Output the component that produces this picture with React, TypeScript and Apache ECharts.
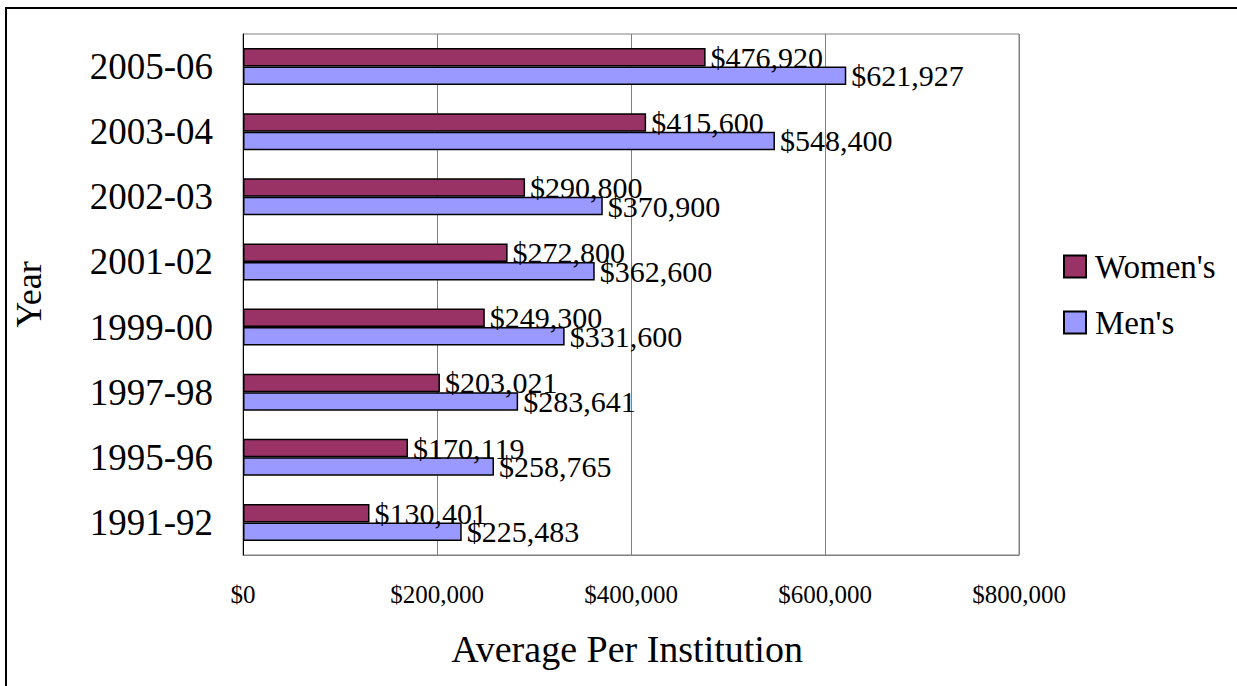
import React, { useEffect, useRef } from "react";
import * as echarts from "echarts";

const years = ["1991-92", "1995-96", "1997-98", "1999-00", "2001-02", "2002-03", "2003-04", "2005-06"];
const womens = [130401, 170119, 203021, 249300, 272800, 290800, 415600, 476920];
const mens = [225483, 258765, 283641, 331600, 362600, 370900, 548400, 621927];
const xTicks = [0, 200000, 400000, 600000, 800000];

const FONT = "'Liberation Serif'";
const money = (v: number) => "$" + v.toLocaleString("en-US");

export default function App() {
  const ref = useRef<HTMLDivElement>(null);
  useEffect(() => {
    if (!ref.current) return;
    const chart = echarts.init(ref.current, null, { renderer: "svg" });
    const labelCfg = {
      show: true,
      position: "right" as const,
      distance: 5,
      fontFamily: FONT,
      fontSize: 30,
      color: "#000",
      formatter: (p: any) => money(p.value),
    };
    chart.setOption({
      animation: false,
      backgroundColor: "#fff",
      textStyle: { fontFamily: FONT },
      graphic: [
        {
          type: "rect",
          shape: { x: 6, y: 8, width: 1300, height: 800 },
          style: { fill: "none", stroke: "#000", lineWidth: 2 },
          silent: true,
          z: -10,
        },
      ],
      grid: {
        left: 243,
        top: 34,
        right: 218,
        bottom: 131,
        outerBoundsMode: "none",
        containLabel: false,
        show: true,
        borderColor: "#808080",
        borderWidth: 1,
        backgroundColor: "transparent",
      },
      legend: {
        orient: "vertical",
        left: 1063,
        top: 250,
        padding: 0,
        itemWidth: 22,
        itemHeight: 22,
        itemGap: 23,
        icon: "rect",
        data: ["Women's", "Men's"],
        textStyle: {
          fontFamily: FONT,
          fontSize: 33,
          lineHeight: 22,
          color: "#000",
          padding: [0, 0, 0, 4],
        },
      },
      xAxis: {
        type: "value",
        min: xTicks[0],
        max: xTicks[xTicks.length - 1],
        interval: 200000,
        name: "Average Per Institution",
        nameLocation: "middle",
        nameGap: 75,
        nameTextStyle: { fontFamily: FONT, fontSize: 38, color: "#000", padding: [0, 8, 0, 0] },
        axisLine: { show: true, lineStyle: { color: "#808080", width: 1 } },
        axisTick: { show: false },
        axisLabel: {
          fontFamily: FONT,
          fontSize: 25,
          color: "#000",
          margin: 27,
          formatter: (v: number) => money(v),
        },
        splitLine: { show: true, lineStyle: { color: "#808080", width: 1 } },
      },
      yAxis: {
        type: "category",
        data: years,
        name: "Year",
        nameLocation: "middle",
        nameGap: 196,
        nameRotate: 90,
        nameTextStyle: { fontFamily: FONT, fontSize: 36, color: "#000" },
        axisLine: { show: true, lineStyle: { color: "#000", width: 1 } },
        axisTick: { show: false },
        axisLabel: { fontFamily: FONT, fontSize: 37, color: "#000", margin: 30 },
        splitLine: { show: false },
      },
      series: [
        {
          name: "Women's",
          type: "bar",
          data: womens,
          barGap: "0%",
          barCategoryGap: "43%",
          itemStyle: { color: "#993366", borderColor: "#000", borderWidth: 1.5 },
          label: labelCfg,
        },
        {
          name: "Men's",
          type: "bar",
          data: mens,
          barGap: "0%",
          barCategoryGap: "43%",
          itemStyle: { color: "#9999FF", borderColor: "#000", borderWidth: 1.5 },
          label: labelCfg,
        },
      ],
    });
    return () => chart.dispose();
  }, []);
  return (
    <div
      ref={ref}
      style={{ position: "absolute", left: 0, top: 0, width: 1237, height: 686 }}
    />
  );
}
